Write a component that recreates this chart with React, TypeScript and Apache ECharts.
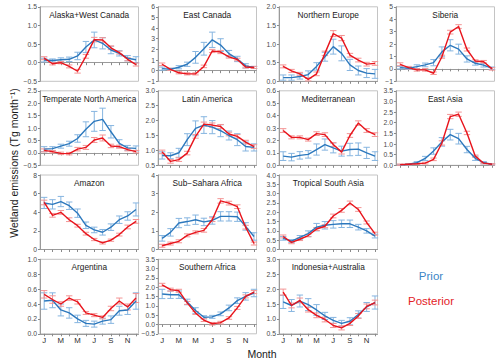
import { useEffect, useRef } from "react";
import * as echarts from "echarts";

const months = [1, 2, 3, 4, 5, 6, 7, 8, 9, 10, 11, 12];
const monthLabelValues = [1, 3, 5, 7, 9, 11];
const monthLabels = ["J", "M", "M", "J", "S", "N"];

const alaskaPrior = [0.07, 0.06, 0.08, 0.09, 0.18, 0.42, 0.61, 0.52, 0.34, 0.25, 0.12, 0.08];
const alaskaPriorErr = [0.05, 0.04, 0.05, 0.06, 0.1, 0.15, 0.21, 0.15, 0.1, 0.07, 0.07, 0.08];
const alaskaPost = [0.12, -0.03, 0.0, -0.1, -0.23, 0.17, 0.62, 0.61, 0.4, 0.27, 0.09, -0.05];
const alaskaPostErr = [0.04, 0.03, 0.03, 0.04, 0.05, 0.05, 0.06, 0.06, 0.05, 0.04, 0.04, 0.04];

const eastCanadaPrior = [0.19, 0.13, 0.32, 0.6, 1.25, 2.06, 2.9, 2.4, 1.6, 1.1, 0.45, 0.3];
const eastCanadaPriorErr = [0.15, 0.1, 0.15, 0.2, 0.55, 0.6, 0.72, 0.6, 0.3, 0.25, 0.2, 0.1];
const eastCanadaPost = [0.6, 0.12, -0.2, -0.3, -0.3, 0.4, 1.85, 1.75, 1.3, 1.05, 0.35, 0.3];
const eastCanadaPostErr = [0.12, 0.1, 0.1, 0.1, 0.1, 0.12, 0.15, 0.15, 0.12, 0.12, 0.1, 0.1];

const northEuropePrior = [0.1, 0.1, 0.13, 0.18, 0.4, 0.66, 0.93, 0.75, 0.44, 0.29, 0.22, 0.2];
const northEuropePriorErr = [0.07, 0.07, 0.07, 0.1, 0.1, 0.12, 0.2, 0.2, 0.15, 0.12, 0.12, 0.12];
const northEuropePost = [0.4, 0.28, 0.2, 0.05, 0.2, 0.75, 1.28, 1.16, 0.7, 0.57, 0.46, 0.48];
const northEuropePostErr = [0.04, 0.04, 0.04, 0.04, 0.05, 0.06, 0.08, 0.07, 0.05, 0.05, 0.05, 0.05];

const siberiaPrior = [0.1, 0.05, 0.18, 0.32, 0.5, 1.37, 1.9, 1.59, 0.8, 0.45, 0.3, 0.05];
const siberiaPriorErr = [0.1, 0.1, 0.15, 0.15, 0.25, 0.4, 0.45, 0.4, 0.25, 0.15, 0.15, 0.1];
const siberiaPost = [0.37, 0.1, -0.08, -0.08, -0.35, 0.98, 2.96, 3.41, 1.56, 0.63, 0.58, 0.0];
const siberiaPostErr = [0.12, 0.1, 0.1, 0.1, 0.1, 0.12, 0.15, 0.15, 0.12, 0.1, 0.1, 0.1];

const tempNAPrior = [0.15, 0.17, 0.27, 0.37, 0.58, 0.95, 1.27, 1.35, 0.85, 0.38, 0.2, 0.18];
const tempNAPriorErr = [0.1, 0.08, 0.08, 0.1, 0.15, 0.3, 0.4, 0.45, 0.25, 0.15, 0.1, 0.1];
const tempNAPost = [0.1, 0.05, -0.02, -0.03, 0.15, 0.22, 0.52, 0.6, 0.28, 0.25, 0.13, 0.05];
const tempNAPostErr = [0.06, 0.05, 0.05, 0.05, 0.07, 0.08, 0.1, 0.12, 0.07, 0.06, 0.05, 0.05];

const latinPrior = [0.83, 0.82, 0.92, 1.36, 1.74, 1.85, 1.78, 1.66, 1.5, 1.36, 1.13, 1.1];
const latinPriorErr = [0.12, 0.1, 0.15, 0.2, 0.25, 0.28, 0.22, 0.2, 0.15, 0.2, 0.15, 0.12];
const latinPost = [0.95, 0.63, 0.69, 0.91, 1.47, 1.88, 1.85, 1.8, 1.55, 1.47, 1.28, 1.13];
const latinPostErr = [0.06, 0.06, 0.06, 0.06, 0.06, 0.07, 0.07, 0.07, 0.06, 0.06, 0.06, 0.06];

const mediPrior = [0.074, 0.066, 0.08, 0.088, 0.127, 0.167, 0.14, 0.114, 0.127, 0.13, 0.1, 0.074];
const mediPriorErr = [0.035, 0.03, 0.03, 0.03, 0.045, 0.045, 0.04, 0.04, 0.05, 0.05, 0.045, 0.035];
const mediPost = [0.28, 0.225, 0.225, 0.207, 0.255, 0.247, 0.167, 0.106, 0.24, 0.34, 0.28, 0.247];
const mediPostErr = [0.015, 0.012, 0.012, 0.012, 0.015, 0.015, 0.015, 0.015, 0.015, 0.018, 0.015, 0.015];

const eastAsiaPrior = [0.02, 0.05, 0.12, 0.32, 0.67, 1.1, 1.44, 1.25, 0.74, 0.33, 0.12, 0.05];
const eastAsiaPriorErr = [0.02, 0.03, 0.05, 0.1, 0.15, 0.2, 0.25, 0.25, 0.15, 0.1, 0.05, 0.03];
const eastAsiaPost = [0.03, 0.05, 0.07, 0.1, 0.28, 1.05, 2.29, 2.4, 1.52, 0.43, 0.1, 0.05];
const eastAsiaPostErr = [0.03, 0.03, 0.03, 0.04, 0.06, 0.1, 0.1, 0.1, 0.08, 0.05, 0.03, 0.03];

const amazonPrior = [5.0, 4.85, 5.15, 4.7, 3.9, 2.6, 2.1, 1.85, 2.4, 3.2, 3.6, 4.3];
const amazonPriorErr = [0.6, 0.5, 0.55, 0.4, 0.45, 0.35, 0.3, 0.3, 0.35, 0.4, 0.45, 0.7];
const amazonPost = [5.05, 3.67, 3.99, 3.2, 2.56, 1.7, 1.07, 0.71, 1.0, 1.6, 2.42, 3.02];
const amazonPostErr = [0.25, 0.2, 0.2, 0.2, 0.15, 0.15, 0.12, 0.12, 0.12, 0.15, 0.2, 0.2];

const subSaharaPrior = [0.6, 0.92, 1.42, 1.5, 1.6, 1.48, 1.56, 1.78, 1.78, 1.76, 1.24, 0.7];
const subSaharaPriorErr = [0.15, 0.2, 0.25, 0.2, 0.25, 0.2, 0.2, 0.25, 0.25, 0.25, 0.2, 0.2];
const subSaharaPost = [0.2, 0.32, 0.44, 0.76, 0.92, 1.03, 1.6, 2.61, 2.49, 2.3, 1.2, 0.32];
const subSaharaPostErr = [0.08, 0.08, 0.08, 0.08, 0.08, 0.1, 0.1, 0.12, 0.1, 0.1, 0.1, 0.08];

const tropSAsiaPrior = [0.6, 0.45, 0.65, 0.85, 1.2, 1.3, 1.35, 1.38, 1.38, 1.2, 1.0, 0.72];
const tropSAsiaPriorErr = [0.1, 0.08, 0.1, 0.15, 0.2, 0.2, 0.2, 0.2, 0.2, 0.15, 0.12, 0.1];
const tropSAsiaPost = [0.7, 0.38, 0.55, 0.75, 1.1, 1.25, 1.8, 2.1, 2.5, 2.15, 1.45, 0.85];
const tropSAsiaPostErr = [0.08, 0.07, 0.07, 0.07, 0.08, 0.08, 0.1, 0.1, 0.1, 0.1, 0.08, 0.08];

const argentinaPrior = [0.44, 0.45, 0.32, 0.28, 0.2, 0.14, 0.13, 0.17, 0.19, 0.31, 0.32, 0.44];
const argentinaPriorErr = [0.11, 0.1, 0.08, 0.07, 0.05, 0.04, 0.04, 0.04, 0.05, 0.06, 0.06, 0.11];
const argentinaPost = [0.53, 0.46, 0.4, 0.48, 0.43, 0.28, 0.25, 0.22, 0.34, 0.44, 0.36, 0.48];
const argentinaPostErr = [0.05, 0.05, 0.03, 0.03, 0.03, 0.02, 0.02, 0.02, 0.03, 0.04, 0.04, 0.06];

const southAfricaPrior = [1.64, 1.6, 1.6, 1.21, 0.75, 0.39, 0.41, 0.57, 0.89, 1.28, 1.51, 1.69];
const southAfricaPriorErr = [0.25, 0.2, 0.2, 0.15, 0.15, 0.08, 0.08, 0.1, 0.15, 0.15, 0.2, 0.2];
const southAfricaPost = [2.13, 1.87, 1.81, 1.16, 0.62, 0.23, 0.04, 0.1, 0.35, 0.89, 1.51, 1.74];
const southAfricaPostErr = [0.08, 0.08, 0.08, 0.08, 0.08, 0.07, 0.07, 0.07, 0.07, 0.08, 0.08, 0.08];

const indoAusPrior = [1.57, 1.45, 1.6, 1.48, 1.3, 1.1, 0.95, 0.85, 0.92, 1.15, 1.4, 1.55];
const indoAusPriorErr = [0.22, 0.2, 0.2, 0.2, 0.18, 0.12, 0.1, 0.1, 0.12, 0.12, 0.15, 0.22];
const indoAusPost = [1.9, 1.45, 1.62, 1.31, 1.12, 0.98, 0.78, 0.7, 0.85, 1.1, 1.42, 1.55];
const indoAusPostErr = [0.1, 0.08, 0.08, 0.08, 0.08, 0.08, 0.07, 0.07, 0.07, 0.08, 0.08, 0.08];

const COL_LEFT = [40, 158, 279, 396];
const ROW_TOP = [6.8, 90.8, 175, 259.3];
const PLOT_W = 98.5;
const PLOT_H = 74.5;

const PRIOR_LINE = "#2c78bd";
const PRIOR_ERR = "#86b5e0";
const POST_LINE = "#e8141c";
const POST_ERR = "#f39494";
const FONT = "Liberation Sans, Arial, Helvetica, sans-serif";

type Panel = {
  title: string;
  prior: number[];
  priorErr: number[];
  post: number[];
  postErr: number[];
  yMin: number;
  yMax: number;
  yStep: number;
  dec: number;
  row: number;
  col: number;
  xLabels: boolean;
};

const panels: Panel[] = [
  { title: "Alaska+West Canada", prior: alaskaPrior, priorErr: alaskaPriorErr, post: alaskaPost, postErr: alaskaPostErr, yMin: -0.5, yMax: 1.5, yStep: 0.5, dec: 1, row: 0, col: 0, xLabels: false },
  { title: "East Canada", prior: eastCanadaPrior, priorErr: eastCanadaPriorErr, post: eastCanadaPost, postErr: eastCanadaPostErr, yMin: -1, yMax: 6, yStep: 1, dec: 0, row: 0, col: 1, xLabels: false },
  { title: "Northern Europe", prior: northEuropePrior, priorErr: northEuropePriorErr, post: northEuropePost, postErr: northEuropePostErr, yMin: 0, yMax: 2, yStep: 0.5, dec: 1, row: 0, col: 2, xLabels: false },
  { title: "Siberia", prior: siberiaPrior, priorErr: siberiaPriorErr, post: siberiaPost, postErr: siberiaPostErr, yMin: -1, yMax: 5, yStep: 1, dec: 0, row: 0, col: 3, xLabels: false },
  { title: "Temperate North America", prior: tempNAPrior, priorErr: tempNAPriorErr, post: tempNAPost, postErr: tempNAPostErr, yMin: -0.5, yMax: 2.5, yStep: 0.5, dec: 1, row: 1, col: 0, xLabels: false },
  { title: "Latin America", prior: latinPrior, priorErr: latinPriorErr, post: latinPost, postErr: latinPostErr, yMin: 0.5, yMax: 3, yStep: 0.5, dec: 1, row: 1, col: 1, xLabels: false },
  { title: "Mediterranean", prior: mediPrior, priorErr: mediPriorErr, post: mediPost, postErr: mediPostErr, yMin: 0, yMax: 0.6, yStep: 0.1, dec: 1, row: 1, col: 2, xLabels: false },
  { title: "East Asia", prior: eastAsiaPrior, priorErr: eastAsiaPriorErr, post: eastAsiaPost, postErr: eastAsiaPostErr, yMin: 0, yMax: 3.5, yStep: 0.5, dec: 1, row: 1, col: 3, xLabels: false },
  { title: "Amazon", prior: amazonPrior, priorErr: amazonPriorErr, post: amazonPost, postErr: amazonPostErr, yMin: 0, yMax: 8, yStep: 2, dec: 0, row: 2, col: 0, xLabels: false },
  { title: "Sub\u2212Sahara Africa", prior: subSaharaPrior, priorErr: subSaharaPriorErr, post: subSaharaPost, postErr: subSaharaPostErr, yMin: 0, yMax: 4, yStep: 1, dec: 0, row: 2, col: 1, xLabels: false },
  { title: "Tropical South Asia", prior: tropSAsiaPrior, priorErr: tropSAsiaPriorErr, post: tropSAsiaPost, postErr: tropSAsiaPostErr, yMin: 0, yMax: 4, yStep: 0.5, dec: 1, row: 2, col: 2, xLabels: false },
  { title: "Argentina", prior: argentinaPrior, priorErr: argentinaPriorErr, post: argentinaPost, postErr: argentinaPostErr, yMin: 0, yMax: 1, yStep: 0.2, dec: 1, row: 3, col: 0, xLabels: true },
  { title: "Southern Africa", prior: southAfricaPrior, priorErr: southAfricaPriorErr, post: southAfricaPost, postErr: southAfricaPostErr, yMin: -0.5, yMax: 3.5, yStep: 0.5, dec: 1, row: 3, col: 1, xLabels: true },
  { title: "Indonesia+Australia", prior: indoAusPrior, priorErr: indoAusPriorErr, post: indoAusPost, postErr: indoAusPostErr, yMin: 0.5, yMax: 3, yStep: 0.5, dec: 1, row: 3, col: 2, xLabels: true },
];

function errRender(color: string) {
  return (_params: any, api: any) => {
    const x = api.value(0);
    const y = api.value(1);
    const e = api.value(2);
    const hi = api.coord([x, y + e]);
    const lo = api.coord([x, y - e]);
    const hw = 3.2;
    const style = { stroke: color, lineWidth: 1, fill: null };
    return {
      type: "group",
      children: [
        { type: "line", shape: { x1: hi[0], y1: hi[1], x2: lo[0], y2: lo[1] }, style },
        { type: "line", shape: { x1: hi[0] - hw, y1: hi[1], x2: hi[0] + hw, y2: hi[1] }, style },
        { type: "line", shape: { x1: lo[0] - hw, y1: lo[1], x2: lo[0] + hw, y2: lo[1] }, style },
      ],
    };
  };
}

function fmt(v: number, dec: number) {
  const r = Math.round(v * 1000) / 1000;
  const s = Math.abs(r).toFixed(dec);
  return (r < 0 ? "\u2212" : "") + s;
}

function textEl(text: string, x: number, y: number, size: number, color: string, extra: any = {}) {
  return {
    type: "text",
    x,
    y,
    silent: true,
    ...extra,
    style: {
      text,
      fontSize: size,
      fontFamily: FONT,
      fill: color,
      align: "center",
      verticalAlign: "middle",
      textAlign: "center",
      textVerticalAlign: "middle",
    },
  };
}

export default function App() {
  const ref = useRef<HTMLDivElement>(null);

  useEffect(() => {
    if (!ref.current) return;
    const chart = echarts.init(ref.current, undefined, { renderer: "svg" });

    const grid: any[] = [];
    const xAxis: any[] = [];
    const yAxis: any[] = [];
    const series: any[] = [];
    const graphic: any[] = [];

    panels.forEach((p, i) => {
      const left = COL_LEFT[p.col];
      const top = ROW_TOP[p.row];
      grid.push({
        left,
        top,
        width: PLOT_W,
        height: PLOT_H,
        show: true,
        borderColor: "#c4c4c4",
        borderWidth: 1,
        backgroundColor: "transparent",
      });
      xAxis.push({
        type: "value",
        gridIndex: i,
        min: 0.5,
        max: 12.3,
        splitLine: { show: false },
        axisLine: { show: true, lineStyle: { color: "#9a9a9a", width: 1 } },
        axisTick: { show: true, length: 2.5, customValues: months, lineStyle: { color: "#8a8a8a" } },
        axisLabel: {
          show: p.xLabels,
          customValues: monthLabelValues,
          formatter: (v: number) => monthLabels[monthLabelValues.indexOf(Math.round(v))] ?? "",
          fontSize: 7.8,
          color: "#2a2a2a",
          fontFamily: FONT,
          margin: 3,
        },
      });
      yAxis.push({
        type: "value",
        gridIndex: i,
        min: p.yMin,
        max: p.yMax,
        interval: p.yStep,
        splitLine: { show: false },
        axisLine: { show: true, lineStyle: { color: "#9a9a9a", width: 1 } },
        axisTick: { show: true, length: 2, lineStyle: { color: "#8a8a8a" } },
        axisLabel: {
          fontSize: 6.8,
          color: "#4a4a4a",
          fontFamily: FONT,
          margin: 3,
          formatter: (v: number) => fmt(v, p.dec),
        },
      });
      const priorErrData = months.map((m, k) => [m, p.prior[k], p.priorErr[k]]);
      const postErrData = months.map((m, k) => [m, p.post[k], p.postErr[k]]);
      series.push({
        type: "custom",
        xAxisIndex: i,
        yAxisIndex: i,
        renderItem: errRender(PRIOR_ERR),
        data: priorErrData,
        encode: { x: 0, y: 1 },
        silent: true,
        z: 1,
      });
      series.push({
        type: "custom",
        xAxisIndex: i,
        yAxisIndex: i,
        renderItem: errRender(POST_ERR),
        data: postErrData,
        encode: { x: 0, y: 1 },
        silent: true,
        z: 2,
      });
      series.push({
        type: "line",
        xAxisIndex: i,
        yAxisIndex: i,
        data: months.map((m, k) => [m, p.prior[k]]),
        symbol: "none",
        lineStyle: { color: PRIOR_LINE, width: 1.4 },
        itemStyle: { color: PRIOR_LINE },
        silent: true,
        z: 3,
      });
      series.push({
        type: "line",
        xAxisIndex: i,
        yAxisIndex: i,
        data: months.map((m, k) => [m, p.post[k]]),
        symbol: "none",
        lineStyle: { color: POST_LINE, width: 1.4 },
        itemStyle: { color: POST_LINE },
        silent: true,
        z: 4,
      });
      graphic.push(textEl(p.title, left + PLOT_W / 2, top + 7.8, 8.3, "#1a1a1a"));
    });

    graphic.push(
      textEl("Wetland emissions (Tg month\u207B\u00B9)", 14, 163, 10.5, "#1a1a1a", { rotation: Math.PI / 2 })
    );
    graphic.push(textEl("Month", 262, 354, 10.5, "#1a1a1a"));
    graphic.push(textEl("Prior", 431, 276, 11.5, "#3b86c6"));
    graphic.push(textEl("Posterior", 431, 301, 11.5, "#e32227"));

    chart.setOption({
      animation: false,
      backgroundColor: "#ffffff",
      textStyle: { fontFamily: FONT },
      grid,
      xAxis,
      yAxis,
      series,
      graphic,
    });

    return () => {
      chart.dispose();
    };
  }, []);

  return (
    <div
      ref={ref}
      style={{ position: "absolute", left: 0, top: 0, width: 500, height: 362 }}
    />
  );
}
